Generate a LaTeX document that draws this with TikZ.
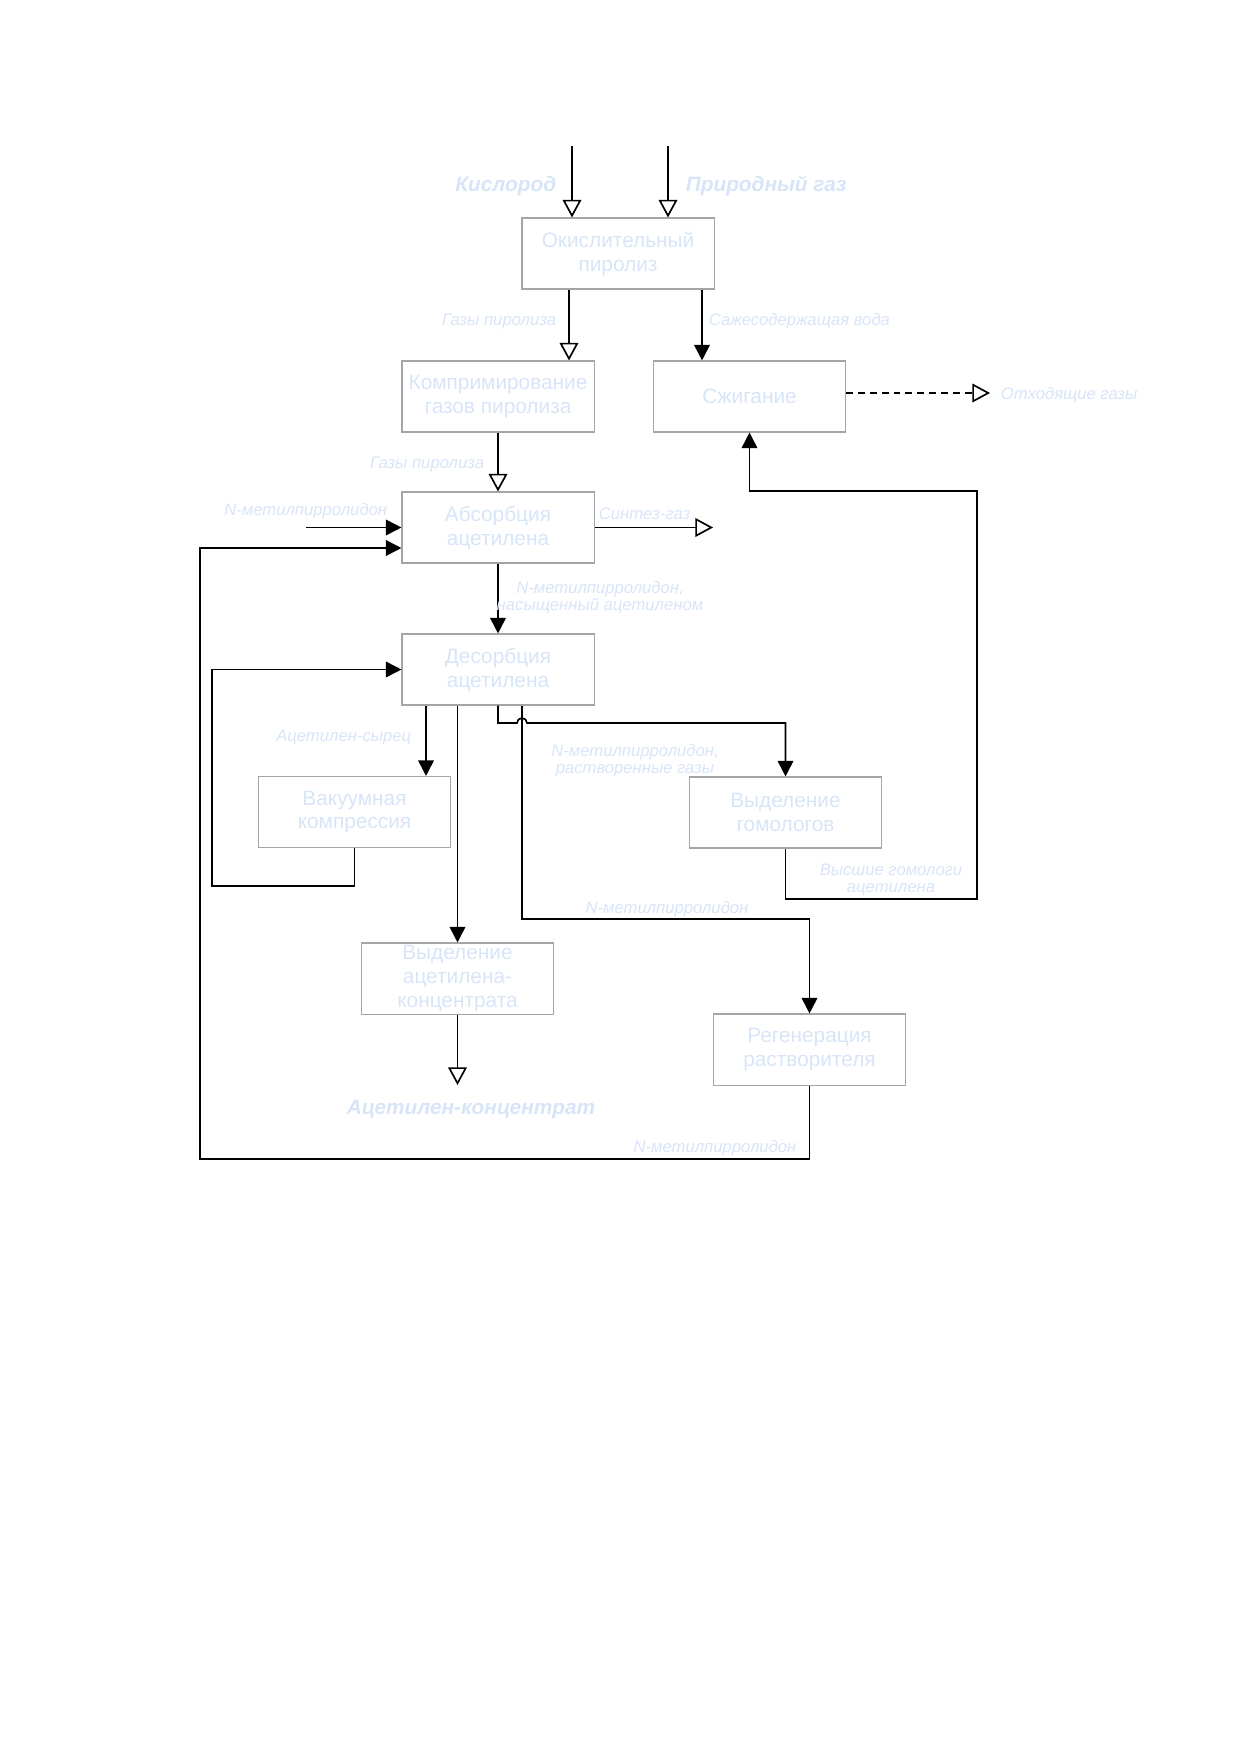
\documentclass[tikz,border=0pt]{standalone}
\usepackage{fontspec}
\setmainfont{Liberation Sans}
\usetikzlibrary{arrows.meta}
\definecolor{textblue}{RGB}{216,228,248}
\definecolor{boxgray}{RGB}{165,165,165}
\tikzset{
  block/.style={draw=boxgray,line width=0.5pt,minimum width=92.2pt,minimum height=34.1pt,
    inner sep=0pt,align=center,text=textblue,font=\fontsize{10}{11.5}\selectfont},
  flowlbl/.style={text=textblue,inner sep=0pt,align=center,font=\fontsize{8}{8.2}\selectfont\itshape},
  feed/.style={text=textblue,inner sep=0pt,font=\fontsize{10}{12}\selectfont\bfseries\itshape},
  inflow/.style={-{Triangle[open,length=8.5pt,width=9pt]}},
  flow/.style={-{Triangle[length=7.5pt,width=7.5pt]}},
}
\begin{document}
\begin{tikzpicture}[x=0.4801pt,y=-0.4801pt,thick]
\useasboundingbox (0,0) rectangle (1240,1754);
%блоки
\node[block] (pyr) at (618,253.5) {Окислительный\\пиролиз};
\node[block] (comp) at (498,396.5) {Компримирование\\газов пиролиза};
\node[block] (burn) at (749.5,396.5) {Сжигание};
\node[block] (abs) at (498,527.5) {Абсорбция\\ацетилена};
\node[block] (des) at (498,669.5) {Десорбция\\ацетилена};
\node[block] (vac) at (354.5,812) {Вакуумная\\компрессия};
\node[block] (hom) at (785.5,812.5) {Выделение\\гомологов};
\node[block] (conc) at (457.5,978.5) {Выделение\\ацетилена-\\концентрата};
\node[block] (regen) at (809.5,1049.5) {Регенерация\\растворителя};

%сырьё
\coordinate (o2) at (572,146);
\coordinate (ng) at (668,146);
\draw[inflow] (o2) -- (o2 |- pyr.north);
\draw[inflow] (ng) -- (ng |- pyr.north);
\node[feed,anchor=east] (o2lbl) at (557,186) {Кислород};
\node[feed,anchor=west] (nglbl) at (685,186) {Природный газ};

%пиролиз
\draw[inflow] (pyr.south -| 569,0) -- (569,0 |- comp.north);
\node[flowlbl,anchor=east] at (557,321) {Газы пиролиза};
\draw[flow] (pyr.south -| 702,0) -- (702,0 |- burn.north);
\node[flowlbl,anchor=west] at (708,321) {Сажесодержащая вода};

\coordinate (flue) at (990,393);
\draw[inflow,dash pattern=on 3.3pt off 2.4pt] (burn.east |- flue) -- (flue);
\node[flowlbl,anchor=west] at (1000,395) {Отходящие газы};

\draw[inflow] (comp.south) -- (abs.north);
\node[flowlbl,anchor=east] at (485,464) {Газы пиролиза};

%абсорбция
\coordinate (nmp) at (306,527.5);
\draw[flow] (nmp) -- (abs.west);
\node[flowlbl,anchor=east] at (388,511) {N-метилпирролидон};
\coordinate (syn) at (713,527.5);
\draw[inflow] (abs.east) -- (syn);
\node[flowlbl,anchor=west] at (598,514) {Синтез-газ};

\draw[flow] (abs.south) -- (des.north);
\node[flowlbl] at (600,597.5) {N-метилпирролидон,\\насыщенный ацетиленом};

%десорбция
\draw[flow] (des.south -| 426,0) -- (426,0 |- vac.north);
\node[flowlbl,anchor=east] at (412,737) {Ацетилен-сырец};
\draw[flow] (des.south -| conc) -- (conc.north);
\draw[flow] (des.south) |- (517,723) arc[start angle=180,end angle=360,radius=5] -| (hom.north);
\node[flowlbl] at (635,761) {N-метилпирролидон,\\растворенные газы};
\draw[flow] (des.south -| 522,0) -- (522,919) -| (regen.north);
\node[flowlbl] at (667,909) {N-метилпирролидон};

%рециклы
\draw[flow] (vac.south) |- (212,886) |- (des.west);
\draw[flow] (hom.south) |- (977,899) -- (977,491) -| (burn.south);
\node[flowlbl] at (891,879.5) {Высшие гомологи\\ацетилена};

\coordinate (prod) at (457.5,1085);
\draw[inflow] (conc.south) -- (prod);
\node[feed] at (471,1109) {Ацетилен-концентрат};

\draw[flow] (regen.south) |- (200,1159) -- (200,548) -- (abs.west |- 200,548);
\node[flowlbl] at (715,1148) {N-метилпирролидон};
\end{tikzpicture}
\end{document}
